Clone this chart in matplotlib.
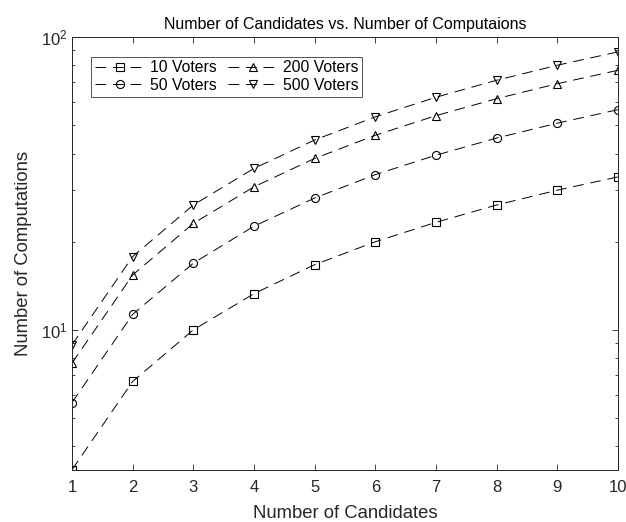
import matplotlib
matplotlib.use("Agg")
import matplotlib.pyplot as plt

plt.rcParams['font.family'] = ['Liberation Sans', 'DejaVu Sans']
plt.rcParams['mathtext.fontset'] = 'custom'
plt.rcParams['mathtext.rm'] = 'Liberation Sans'

# data
candidates = [1, 2, 3, 4, 5, 6, 7, 8, 9, 10]
voters_10 = [3.33, 6.67, 10.0, 13.3, 16.7, 20.0, 23.3, 26.7, 30.0, 33.3]
voters_50 = [5.65, 11.3, 16.9, 22.6, 28.2, 33.9, 39.5, 45.2, 50.8, 56.5]
voters_200 = [7.7, 15.4, 23.1, 30.8, 38.5, 46.2, 53.9, 61.6, 69.3, 77.0]
voters_500 = [8.9, 17.8, 26.7, 35.6, 44.5, 53.4, 62.3, 71.2, 80.1, 89.0]
labels = ['10 Voters', '50 Voters', '200 Voters', '500 Voters']
markers = ['s', 'o', '^', 'v']

txt = '#262626'
fig = plt.figure(figsize=(6.26, 5.22), dpi=100)
ax = fig.add_axes([0.115, 0.1, 0.872, 0.829])

series = [voters_10, voters_50, voters_200, voters_500]
for vals, lab, m in zip(series, labels, markers):
    ax.plot(candidates, vals, linestyle=(0, (11, 7)), color='k', lw=0.7,
            marker=m, markersize=5.8, markerfacecolor='none',
            markeredgecolor='k', markeredgewidth=0.8, label=lab)

ax.set_yscale('log')
ax.set_xlim(1, 10)
ax.set_ylim(3.33, 100)
ax.set_xticks(candidates)

ax.tick_params(which='both', direction='in', top=True, right=True,
               colors=txt, labelsize=12)
ax.tick_params(which='major', length=4, width=0.6)
ax.tick_params(which='minor', length=2.5, width=0.6)
ax.tick_params(axis='x', pad=7)
for s in ax.spines.values():
    s.set_color(txt)
    s.set_linewidth(0.7)

ax.set_xlabel('Number of Candidates', fontsize=13.3, color=txt, labelpad=7.5)
ax.set_ylabel('Number of Computations', fontsize=13.3, color=txt, labelpad=6)
ax.set_title('Number of Candidates vs. Number of Computaions', fontsize=11.5,
             color='k', pad=6)

leg = ax.legend(ncol=2, loc='upper left', bbox_to_anchor=(0.035, 0.955),
                fontsize=11.3, frameon=True, fancybox=False,
                edgecolor=txt, handlelength=3.2, handletextpad=0.3,
                columnspacing=0.7, borderpad=0.25, labelspacing=0.15,
                borderaxespad=0)
leg.get_frame().set_linewidth(0.7)

fig.savefig('out.png', dpi=100)
